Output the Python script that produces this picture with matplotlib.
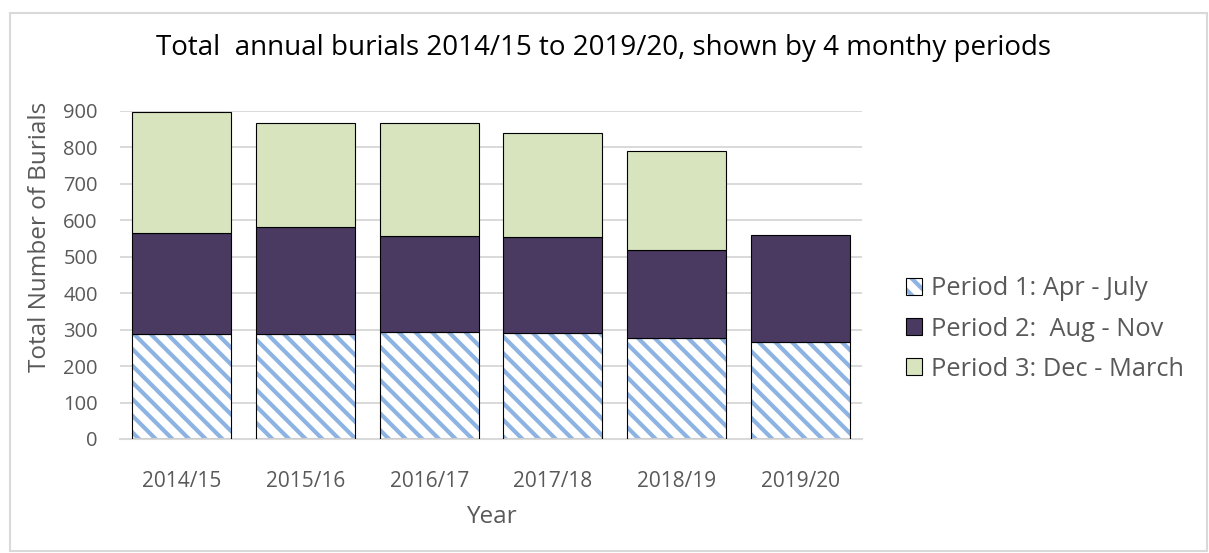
import numpy as np
import matplotlib.pyplot as plt
import matplotlib.patches as mpatches

# data
years = ["2014/15", "2015/16", "2016/17", "2017/18", "2018/19", "2019/20"]
period1 = [288, 289, 294, 290, 278, 266]
period2 = [277, 294, 264, 265, 241, 293]
period3 = [331, 283, 310, 285, 271, 0]
labels = ["Period 1: Apr - July", "Period 2:  Aug - Nov", "Period 3: Dec - March"]

BLUE = "#8db3e2"
PURPLE = "#4a3a62"
GREEN = "#d7e4bd"
GREY_TXT = "#595959"
GRID = "#d9d9d9"

plt.rcParams["font.family"] = ["Open Sans", "DejaVu Sans"]
plt.rcParams["hatch.linewidth"] = 3.0

W, H = 1209, 553
fig = plt.figure(figsize=(W / 100, H / 100), dpi=100)
ax = fig.add_axes([120 / W, 1 - 439 / H, (862 - 120) / W, (439 - 111) / H])

x = np.arange(len(years))
bw = 0.8
p1 = np.array(period1)
p2 = np.array(period2)
p3 = np.array(period3)

# period 1: hatched, outline drawn separately so hatch stays blue
ax.bar(x, p1, bw, color="white", edgecolor=BLUE, hatch="\\\\", linewidth=0, zorder=2)
ax.bar(x, p1, bw, fill=False, edgecolor="black", linewidth=0.8, zorder=3)
ax.bar(x, p2, bw, bottom=p1, color=PURPLE, edgecolor="black", linewidth=0.8, zorder=3)
mask = p3 > 0
ax.bar(x[mask], p3[mask], bw, bottom=(p1 + p2)[mask], color=GREEN,
       edgecolor="black", linewidth=0.8, zorder=3)

ax.set_xlim(-0.5, len(years) - 0.5)
ax.set_ylim(0, 900)
ax.set_yticks(range(0, 901, 100))
ax.set_xticks(x)
ax.set_xticklabels(years)
ax.yaxis.grid(True, color=GRID, linewidth=1.4, zorder=0)
ax.set_axisbelow(True)
for s in ["top", "right", "left"]:
    ax.spines[s].set_visible(False)
ax.spines["bottom"].set_color(GRID)
ax.spines["bottom"].set_linewidth(1.5)
ax.tick_params(axis="both", length=0, colors=GREY_TXT)
ax.tick_params(axis="y", labelsize=14.5, pad=16)
ax.tick_params(axis="x", labelsize=15, pad=23)

fig.text(40 / W, 1 - 237 / H, "Total Number of Burials", rotation=90,
         ha="center", va="center", fontsize=17.5, color=GREY_TXT)
fig.text(491 / W, 1 - 517 / H, "Year", ha="center", va="center",
         fontsize=17.5, color=GREY_TXT)
fig.text(604 / W, 1 - 48 / H,
         "Total  annual burials 2014/15 to 2019/20, shown by 4 monthy periods",
         ha="center", va="center", fontsize=20, color="black")

# legend with hatched square for period 1
h1 = (mpatches.Patch(facecolor="white", edgecolor=BLUE, hatch="\\\\", linewidth=0),
      mpatches.Patch(fill=False, edgecolor="black", linewidth=0.8))
h2 = mpatches.Patch(facecolor=PURPLE, edgecolor="black", linewidth=0.8)
h3 = mpatches.Patch(facecolor=GREEN, edgecolor="black", linewidth=0.8)
leg = fig.legend([h1, h2, h3], labels, loc="center left",
                 bbox_to_anchor=(906 / W, 1 - 329 / H), frameon=False,
                 fontsize=18.3, handlelength=0.63, handleheight=0.63,
                 handletextpad=0.35, labelspacing=0.6, borderpad=0,
                 borderaxespad=0)
for t in leg.get_texts():
    t.set_color(GREY_TXT)

# outer chart border
fig.patches.append(mpatches.Rectangle((10 / W, 2 / H), 1197 / W, (551 - 13) / H,
                                      transform=fig.transFigure, fill=False,
                                      edgecolor=GRID, linewidth=1.5))

fig.savefig("out.png", dpi=100)
